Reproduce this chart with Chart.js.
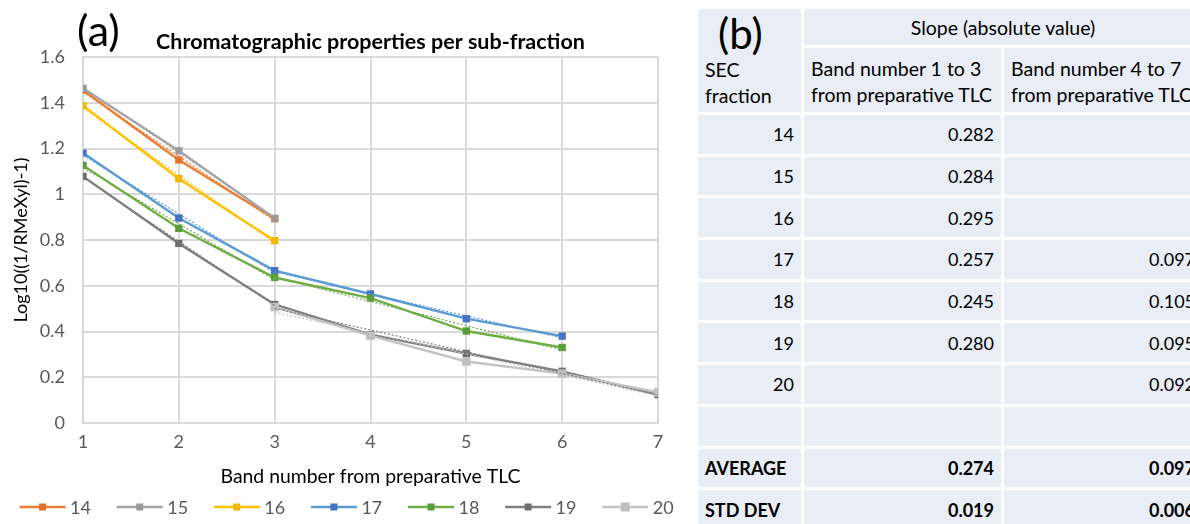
<!DOCTYPE html>
<html>
<head>
<meta charset="utf-8">
<script src="https://cdn.jsdelivr.net/npm/chart.js@4.4.0/dist/chart.umd.min.js"></script>
<style>
  body { margin: 0; width: 1190px; height: 524px; overflow: hidden; background: #fff; position: relative; font-family: Lato, sans-serif; }
  #chartBox { position: absolute; left: 0; top: 0; width: 690px; height: 524px; }
  #slopeTable { position: absolute; left: 695px; top: 6px; border-collapse: separate; border-spacing: 3px; table-layout: fixed; width: 510px; font-size: 18px; color: #000; }
  #slopeTable td { background: #E9EDF5; padding: 0 7px; height: 38.7px; vertical-align: middle; white-space: nowrap; overflow: hidden; }
  #slopeTable td.num { text-align: right; }
  #slopeTable td.txt { font-size: 19.5px; }
  #slopeTable tr.bold td { font-weight: bold; font-size: 18px; }
  #slopeTable td.corner { vertical-align: top; position: relative; }
  .tag { font-size: 42px; line-height: 1; }
</style>
</head>
<body>
<div id="chartBox"><canvas id="bandChart"></canvas></div>
<table id="slopeTable">
  <colgroup><col style="width:103px"><col style="width:197px"><col style="width:198px"></colgroup>
  <tbody id="slopeBody"></tbody>
</table>
<script>
// band positions on the preparative TLC plate
const bands = [1, 2, 3, 4, 5, 6, 7];
const fractions = ['14', '15', '16', '17', '18', '19', '20'];

// Log10((1/RMeXyl)-1) per band, one array per SEC fraction (null = band not present)
const frac14 = [1.455, 1.150, 0.893, null, null, null, null];
const frac15 = [1.463, 1.190, 0.895, null, null, null, null];
const frac16 = [1.387, 1.068, 0.797, null, null, null, null];
const frac17 = [1.180, 0.896, 0.666, 0.564, 0.456, 0.380, null];
const frac18 = [1.126, 0.851, 0.636, 0.546, 0.402, 0.330, null];
const frac19 = [1.078, 0.785, 0.518, 0.386, 0.304, 0.226, 0.124];
const frac20 = [null, null, 0.507, 0.382, 0.269, 0.216, 0.134];

// band ranges used for the linear trendlines of each fraction
const trendRanges = [
  [[1, 3]], [[1, 3]], [[1, 3]],
  [[1, 3], [3, 6]], [[1, 3], [3, 6]], [[1, 3], [3, 7]],
  [[3, 7]]
];

const yTicks = [0, 0.2, 0.4, 0.6, 0.8, 1, 1.2, 1.4, 1.6];

// slope table
const slopeRows = ['14', '15', '16', '17', '18', '19', '20'];
const slope1to3 = ['0.282', '0.284', '0.295', '0.257', '0.245', '0.280', ''];
const slope4to7 = ['', '', '', '0.097', '0.105', '0.095', '0.092'];
const slopeAverage = ['0.274', '0.097'];
const slopeStdDev = ['0.019', '0.006'];

const series = [frac14, frac15, frac16, frac17, frac18, frac19, frac20];
const lineColors = ['#ED7D31', '#A5A5A5', '#FFC000', '#5B9BD5', '#70AD47', '#7F7F7F', '#C3C3C3'];
const markColors = ['#E0702E', '#9A9A9A', '#F2B700', '#4472C4', '#5A9E3A', '#6F6F6F', '#BFBFBF'];

Chart.defaults.font.family = 'Lato, sans-serif';

function points(values) {
  const out = [];
  values.forEach((v, i) => { if (v !== null) out.push({ x: bands[i], y: v }); });
  return out;
}

// least-squares line through the points of one fraction between two bands
function trend(values, from, to) {
  const pts = points(values).filter(p => p.x >= from && p.x <= to);
  const n = pts.length;
  const mx = pts.reduce((s, p) => s + p.x, 0) / n;
  const my = pts.reduce((s, p) => s + p.y, 0) / n;
  let sxy = 0, sxx = 0;
  pts.forEach(p => { sxy += (p.x - mx) * (p.y - my); sxx += (p.x - mx) * (p.x - mx); });
  const k = sxy / sxx;
  return [{ x: from, y: my + k * (from - mx) }, { x: to, y: my + k * (to - mx) }];
}

const datasets = [];
series.forEach((values, i) => {
  datasets.push({
    label: fractions[i],
    data: points(values),
    borderColor: lineColors[i],
    backgroundColor: markColors[i],
    borderWidth: 2.4,
    pointStyle: 'rect',
    pointRadius: i === 6 ? 6 : 5.2,
    pointBorderWidth: 0,
    order: 10 - i
  });
});
series.forEach((values, i) => {
  trendRanges[i].forEach(r => {
    datasets.push({
      label: 'trend',
      data: trend(values, r[0], r[1]),
      borderColor: lineColors[i],
      borderWidth: 1.2,
      borderDash: [2, 2],
      pointRadius: 0,
      order: -1
    });
  });
});

// panel tag, bold heading and the one-row legend under the axis
const headerText = {
  id: 'headerText',
  afterDraw(chart) {
    const { ctx, chartArea } = chart;
    ctx.save();
    ctx.fillStyle = '#000';
    ctx.textBaseline = 'alphabetic';
    ctx.font = '43px Lato, sans-serif';
    ctx.fillText('(a)', 77, 46);
    ctx.font = 'bold 21.5px Lato, sans-serif';
    ctx.textAlign = 'center';
    ctx.fillText('Chromatographic properties per sub-fraction', (chartArea.left + chartArea.right) / 2, 49);

    ctx.font = '18px Lato, sans-serif';
    ctx.textAlign = 'left';
    ctx.textBaseline = 'middle';
    const y = 507;
    fractions.forEach((f, i) => {
      const x0 = 19.6 + i * 97.1;
      ctx.strokeStyle = lineColors[i];
      ctx.lineWidth = 2.5;
      ctx.beginPath(); ctx.moveTo(x0, y); ctx.lineTo(x0 + 46, y); ctx.stroke();
      ctx.fillStyle = markColors[i];
      const s = i === 6 ? 9 : 7;
      ctx.fillRect(x0 + 23 - s / 2, y - s / 2, s, s);
      ctx.fillStyle = '#595959';
      ctx.fillText(f, x0 + 50.5, y + 1);
    });
    ctx.restore();
  }
};

new Chart(document.getElementById('bandChart'), {
  type: 'line',
  data: { datasets: datasets },
  plugins: [headerText],
  options: {
    responsive: true,
    maintainAspectRatio: false,
    animation: false,
    layout: { padding: { top: 57, right: 0, left: 0, bottom: 38 } },
    scales: {
      x: {
        type: 'linear',
        min: 1, max: 7,
        afterFit(scale) { scale.height = 63; },
        ticks: { stepSize: 1, color: '#595959', font: { size: 18 }, padding: 8 },
        grid: { color: '#D9D9D9', lineWidth: 2, drawTicks: false },
        border: { color: '#D9D9D9', width: 2 },
        title: { display: true, text: 'Band number from preparative TLC', color: '#000', font: { size: 19.4 }, padding: { top: 4, bottom: -2 } }
      },
      y: {
        min: 0, max: 1.6,
        afterFit(scale) { scale.width = 83; },
        afterBuildTicks(scale) { scale.ticks = yTicks.map(v => ({ value: v })); },
        ticks: { color: '#595959', font: { size: 18 }, padding: 18, callback: v => String(+v.toFixed(1)) },
        grid: { color: '#D9D9D9', lineWidth: 2, drawTicks: false },
        border: { color: '#D9D9D9', width: 2 },
        title: { display: true, text: 'Log10((1/RMeXyl)-1)', color: '#000', font: { size: 18 }, padding: { top: 10, bottom: 0 } }
      },
      // empty right-hand axis, only keeps a margin beside the plot
      yRight: {
        position: 'right',
        afterFit(scale) { scale.width = 32; },
        ticks: { display: false },
        grid: { display: false },
        border: { display: false }
      }
    },
    plugins: {
      tooltip: { enabled: false },
      legend: { display: false }
    }
  }
});

// fill the slope table
const body = document.getElementById('slopeBody');
function addRow(cells, cls) {
  const tr = document.createElement('tr');
  if (cls) tr.className = cls;
  cells.forEach(c => {
    const td = document.createElement('td');
    td.textContent = c.text;
    if (c.num) td.className = 'num';
    tr.appendChild(td);
  });
  body.appendChild(tr);
  return tr;
}
body.innerHTML =
  '<tr><td class="corner txt" rowspan="2"><div class="tag" style="position:absolute;left:20px;top:3px">(b)</div>' +
  '<div style="position:absolute;left:7px;top:48px;line-height:26px">SEC<br>fraction</div></td>' +
  '<td class="txt" colspan="2" style="text-align:center;height:36px">Slope (absolute value)</td></tr>' +
  '<tr><td class="txt" style="height:61px;line-height:26px;padding-top:3px">Band number 1 to 3<br>from preparative TLC</td>' +
  '<td class="txt" style="height:61px;line-height:26px;padding-top:3px">Band number 4 to 7<br>from preparative TLC</td></tr>';
slopeRows.forEach((r, i) => {
  addRow([{ text: r, num: true }, { text: slope1to3[i], num: true }, { text: slope4to7[i], num: true }]);
});
addRow([{ text: '' }, { text: '' }, { text: '' }]);
addRow([{ text: 'AVERAGE' }, { text: slopeAverage[0], num: true }, { text: slopeAverage[1], num: true }], 'bold');
addRow([{ text: 'STD DEV' }, { text: slopeStdDev[0], num: true }, { text: slopeStdDev[1], num: true }], 'bold');
</script>
</body>
</html>
